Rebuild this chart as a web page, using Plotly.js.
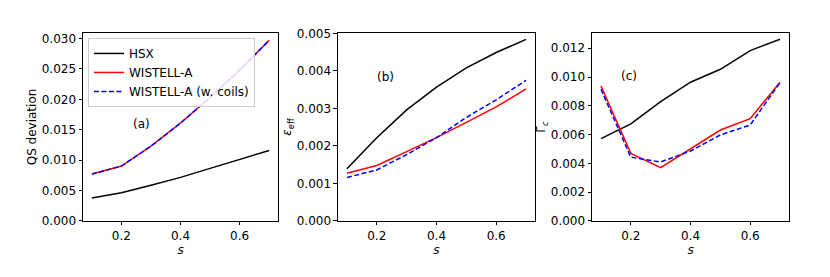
<!DOCTYPE html>
<html>
<head>
<meta charset="utf-8">
<script src="https://cdn.plot.ly/plotly-3.0.1.min.js"></script>
<style>html,body{margin:0;padding:0;background:#fff;}#chart{width:830px;height:277px;}</style>
</head>
<body>
<div id="chart"></div>
<script>
// Data
const s = [0.1, 0.2, 0.3, 0.4, 0.5, 0.6, 0.7];
const seriesNames = ["HSX", "WISTELL-A", "WISTELL-A (w. coils)"];
// (a) QS deviation
const qsHSX = [0.00378, 0.00465, 0.00586, 0.00717, 0.00865, 0.0101, 0.0116];
const qsWA = [0.00772, 0.00903, 0.0123, 0.0161, 0.0203, 0.0248, 0.0297];
const qsWAc = [0.00770, 0.00903, 0.0123, 0.0161, 0.0203, 0.0248, 0.0297];
// (b) epsilon_eff
const epsHSX = [0.00139, 0.00222, 0.00296, 0.00357, 0.00408, 0.00449, 0.00484];
const epsWA = [0.00127, 0.00148, 0.00185, 0.00222, 0.00263, 0.00304, 0.00352];
const epsWAc = [0.00116, 0.00136, 0.00177, 0.00222, 0.00276, 0.00323, 0.00375];
// (c) Gamma_c
const gcHSX = [0.00572, 0.00674, 0.00829, 0.00964, 0.01054, 0.01184, 0.01263];
const gcWA = [0.00938, 0.0047, 0.0037, 0.00498, 0.00632, 0.00711, 0.00964];
const gcWAc = [0.00915, 0.00443, 0.0041, 0.00486, 0.00598, 0.00667, 0.00962];
const panelLabels = ["(a)", "(b)", "(c)"];

const colors = ["#000000", "#ff0000", "#0000ff"];
const dashes = ["solid", "solid", "5px,2.5px"];
const panels = [[qsHSX, qsWA, qsWAc], [epsHSX, epsWA, epsWAc], [gcHSX, gcWA, gcWAc]];
const traces = [];
panels.forEach((p, i) => {
  p.forEach((ys, j) => {
    traces.push({
      x: s, y: ys, type: "scatter", mode: "lines",
      name: seriesNames[j], showlegend: i === 0,
      line: {color: colors[j], width: 1.5, dash: dashes[j]},
      xaxis: i === 0 ? "x" : "x" + (i + 1),
      yaxis: i === 0 ? "y" : "y" + (i + 1)
    });
  });
});

const font = {family: "DejaVu Sans, sans-serif", size: 12, color: "#000"};
function xa(dom, anchor) {
  return {domain: dom, anchor: anchor, range: [0.07, 0.73], tickvals: [0.2, 0.4, 0.6],
    tickformat: ".1f", showline: true, mirror: true, linecolor: "#000", linewidth: 1,
    ticks: "outside", ticklen: 3.5, tickcolor: "#000", showgrid: false, zeroline: false,
    tickfont: font, title: {text: "<i>s</i>", font: font, standoff: 3}};
}
function ya(range, dtick, title, anchor) {
  return {domain: [0.2022, 0.8809], anchor: anchor, range: range, dtick: dtick, tick0: 0,
    tickformat: ".3f", showline: true, mirror: true, linecolor: "#000", linewidth: 1,
    ticks: "outside", ticklen: 3.5, tickcolor: "#000", showgrid: false, zeroline: false,
    tickfont: font, title: {text: title, font: font, standoff: 2}};
}
const layout = {
  width: 830, height: 277,
  margin: {l: 0, r: 0, t: 0, b: 0},
  paper_bgcolor: "#fff", plot_bgcolor: "#fff",
  font: font,
  xaxis: xa([0.1, 0.335], "y"),
  xaxis2: xa([0.4072, 0.6446], "y2"),
  xaxis3: xa([0.7133, 0.9506], "y3"),
  yaxis: ya([0, 0.0309], 0.005, "QS deviation", "x"),
  yaxis2: ya([0, 0.00501], 0.001, "<i>ε</i><sub>eff</sub>", "x2"),
  yaxis3: ya([0, 0.01306], 0.002, "Γ<sub><i>c</i></sub>", "x3"),
  legend: {x: 0.106, y: 0.863, xanchor: "left", yanchor: "top",
    bgcolor: "rgba(255,255,255,0.85)", bordercolor: "#cccccc", borderwidth: 1,
    font: font, tracegroupgap: 0, itemwidth: 30},
  annotations: [
    {text: panelLabels[0], xref: "paper", yref: "paper", x: 0.1578, y: 0.5523, showarrow: false, font: font},
    {text: panelLabels[1], xref: "paper", yref: "paper", x: 0.4639, y: 0.7545, showarrow: false, font: font},
    {text: panelLabels[2], xref: "paper", yref: "paper", x: 0.7699, y: 0.7581, showarrow: false, font: font}
  ],
  showlegend: true
};
Plotly.newPlot("chart", traces, layout, {displayModeBar: false, staticPlot: true});
</script>
</body>
</html>
